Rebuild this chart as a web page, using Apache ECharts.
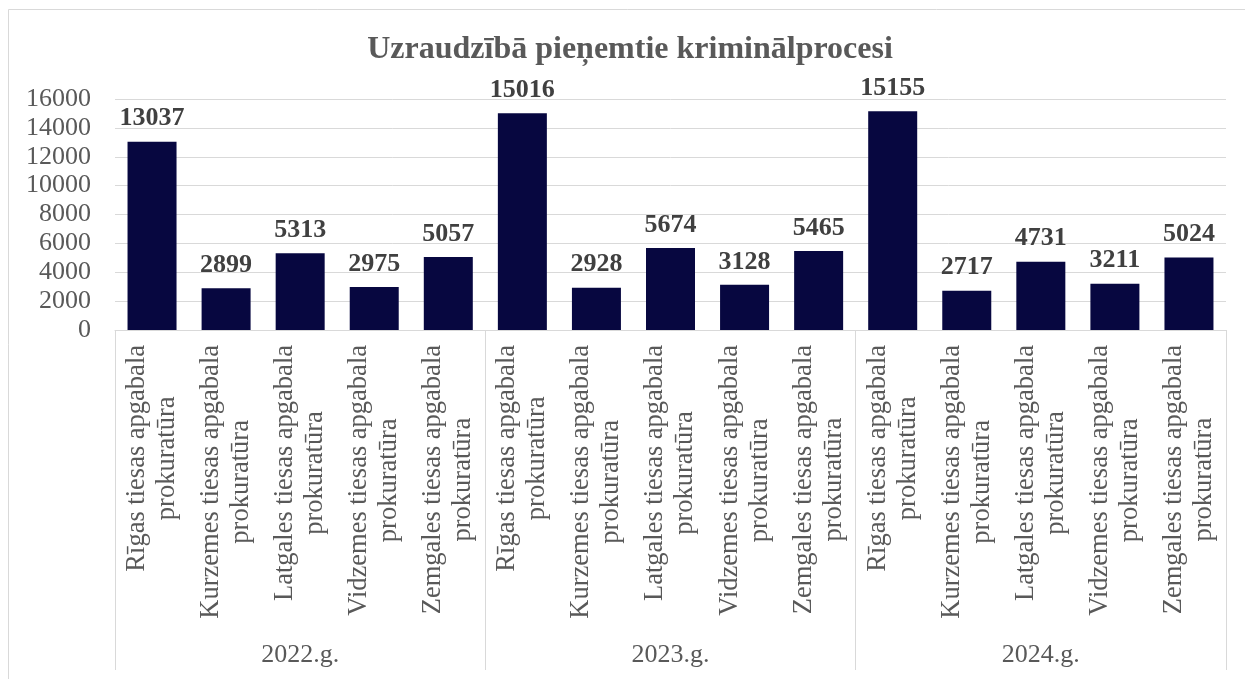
<!DOCTYPE html>
<html>
<head>
<meta charset="utf-8">
<script src="https://cdn.jsdelivr.net/npm/echarts@6/dist/echarts.min.js"></script>
<style>
  html, body { margin: 0; padding: 0; background: #fff; }
  #main { width: 1245px; height: 679px; }
</style>
</head>
<body>
<div id="main"></div>
<script>
// dati
const years = ['2022.g.', '2023.g.', '2024.g.'];
const offices = [
  'Rīgas tiesas apgabala\nprokuratūra',
  'Kurzemes tiesas apgabala\nprokuratūra',
  'Latgales tiesas apgabala\nprokuratūra',
  'Vidzemes tiesas apgabala\nprokuratūra',
  'Zemgales tiesas apgabala\nprokuratūra'
];
const values2022 = [13037, 2899, 5313, 2975, 5057];
const values2023 = [15016, 2928, 5674, 3128, 5465];
const values2024 = [15155, 2717, 4731, 3211, 5024];
const yTicks = { min: 0, max: 16000, interval: 2000 };

const serif = "'Liberation Serif', 'Times New Roman', serif";
const grey = '#595959';

// 15 kategorijas: katram gadam visas prokuratūras
const categories = [];
years.forEach(function () { offices.forEach(function (o) { categories.push(o); }); });
const values = values2022.concat(values2023, values2024);

var chart = echarts.init(document.getElementById('main'));
chart.setOption({
  backgroundColor: '#fff',
  animation: false,
  title: {
    text: 'Uzraudzībā pieņemtie kriminālprocesi',
    left: 630,
    textAlign: 'center',
    top: 34,
    padding: 0,
    textStyle: { fontFamily: serif, fontSize: 32, fontWeight: 'bold', color: grey }
  },
  graphic: [{
    type: 'rect',
    shape: { x: 8.5, y: 9.5, width: 1300, height: 700 },
    style: { fill: 'none', stroke: '#d9d9d9', lineWidth: 1 },
    silent: true
  }],
  grid: { left: 115, right: 19, top: 99, bottom: 349 },
  xAxis: [{
    type: 'category',
    position: 'bottom',
    data: categories,
    axisLine: { lineStyle: { color: '#d9d9d9' } },
    axisTick: { show: false },
    axisLabel: {
      interval: 0,
      rotate: 90,
      margin: 15,
      formatter: function (v) {
        return v.split('\n').map(function (s) { return '{c|' + s + '}'; }).join('\n');
      },
      rich: {
        c: { align: 'center', fontFamily: serif, fontSize: 26.5, lineHeight: 30, color: grey }
      }
    }
  }, {
    type: 'category',
    position: 'bottom',
    data: years,
    axisLine: { show: false },
    axisTick: { show: true, interval: 0, length: 340, lineStyle: { color: '#d9d9d9' } },
    axisLabel: { interval: 0, margin: 312, fontFamily: serif, fontSize: 26, color: grey }
  }],
  yAxis: {
    type: 'value',
    min: yTicks.min,
    max: yTicks.max,
    interval: yTicks.interval,
    axisLine: { show: false },
    axisTick: { show: false },
    splitLine: { lineStyle: { color: '#d9d9d9' } },
    axisLabel: {
      margin: 24, fontFamily: serif, fontSize: 26, color: grey,
      formatter: function (v) { return String(v); }
    }
  },
  series: [{
    type: 'bar',
    xAxisIndex: 0,
    data: values,
    barWidth: 49,
    itemStyle: { color: '#070740' },
    label: {
      show: true,
      position: 'top',
      distance: 10,
      fontFamily: serif,
      fontSize: 26,
      fontWeight: 'bold',
      color: '#404040'
    }
  }]
});

window.addEventListener('resize', function () { chart.resize(); });
</script>
</body>
</html>
